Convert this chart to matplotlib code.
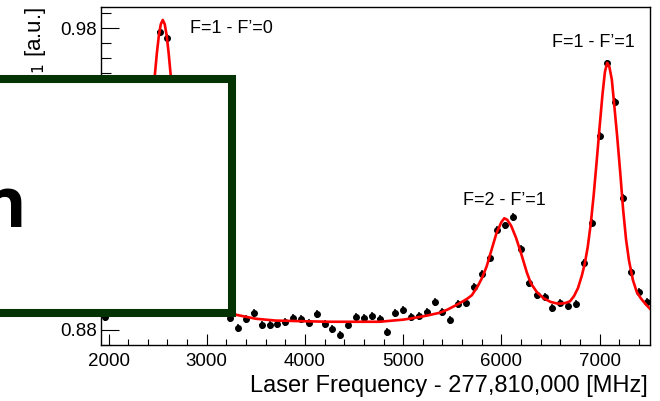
import matplotlib
matplotlib.use("Agg")
import matplotlib.pyplot as plt
from matplotlib.patches import Rectangle
from matplotlib.ticker import MultipleLocator

plt.rcParams['font.family'] = ['Liberation Sans', 'DejaVu Sans']

# ---- data ----
freq = [1960, 2040, 2120, 2200, 2280, 2360, 2440, 2520, 2600, 2680,
        2760, 2840, 2920, 3000, 3080, 3160, 3240, 3320, 3400, 3480,
        3560, 3640, 3720, 3800, 3880, 3960, 4040, 4120, 4200, 4280,
        4360, 4440, 4520, 4600, 4680, 4760, 4840, 4920, 5000, 5080,
        5160, 5240, 5320, 5400, 5480, 5560, 5640, 5720, 5800, 5880,
        5960, 6040, 6120, 6200, 6280, 6360, 6440, 6520, 6600, 6680,
        6760, 6840, 6920, 7000, 7080, 7160, 7240, 7320, 7400, 7480]
signal = [0.8844, 0.8870, 0.8885, 0.8930, 0.9010, 0.9220, 0.9480, 0.9786, 0.9768, 0.9430,
          0.9230, 0.9080, 0.8990, 0.8940, 0.8900, 0.8880, 0.8839, 0.8806, 0.8835, 0.8855,
          0.8817, 0.8817, 0.8819, 0.8827, 0.8839, 0.8835, 0.8822, 0.8852, 0.8819, 0.8802,
          0.8783, 0.8817, 0.8844, 0.8839, 0.8846, 0.8835, 0.8794, 0.8857, 0.8866, 0.8844,
          0.8846, 0.8860, 0.8892, 0.8858, 0.8834, 0.8887, 0.8889, 0.8942, 0.8986, 0.9037,
          0.9131, 0.9146, 0.9173, 0.9067, 0.8955, 0.8916, 0.8909, 0.8874, 0.8890, 0.8879,
          0.8885, 0.9021, 0.9153, 0.9443, 0.9683, 0.9556, 0.9236, 0.8993, 0.8927, 0.8894]
signal_err = 0.0013
freq_err = 25

fit_x = [1930, 2052, 2152, 2202, 2252, 2302, 2352, 2392, 2422, 2452,
         2472, 2492, 2512, 2532, 2552, 2572, 2592, 2612, 2632, 2652,
         2682, 2712, 2752, 2802, 2852, 2902, 2952, 3052, 3152, 3300,
         3500, 3700, 3950, 4250, 4760, 5000, 5100, 5250, 5375, 5450,
         5545, 5610, 5660, 5700, 5760, 5800, 5850, 5900, 5950, 6000,
         6030, 6060, 6100, 6150, 6200, 6260, 6300, 6360, 6430, 6500,
         6560, 6600, 6650, 6700, 6740, 6780, 6820, 6850, 6880, 6910,
         6940, 6970, 7000, 7030, 7055, 7078, 7100, 7125, 7150, 7180,
         7210, 7240, 7270, 7300, 7340, 7380, 7420, 7470, 7520]
fit_y = [0.8885, 0.8925, 0.8975, 0.9020, 0.9070, 0.9145, 0.9250, 0.9360, 0.9460, 0.9572,
         0.9647, 0.9717, 0.9775, 0.9813, 0.9827, 0.9813, 0.9775, 0.9717, 0.9647, 0.9572,
         0.9460, 0.9360, 0.9250, 0.9145, 0.9070, 0.9020, 0.8975, 0.8920, 0.8885, 0.8850,
         0.8837, 0.8831, 0.8829, 0.8827, 0.8827, 0.8834, 0.8839, 0.8848, 0.8857, 0.8867,
         0.8883, 0.8895, 0.8905, 0.8915, 0.8945, 0.8970, 0.9010, 0.9065, 0.9120, 0.9157,
         0.9170, 0.9165, 0.9145, 0.9105, 0.9055, 0.8990, 0.8955, 0.8926, 0.8905, 0.8893,
         0.8888, 0.8887, 0.8889, 0.8895, 0.8912, 0.8938, 0.8980, 0.9020, 0.9075, 0.9150,
         0.9245, 0.9355, 0.9470, 0.9580, 0.9655, 0.9685, 0.9672, 0.9630, 0.9545, 0.9440,
         0.9325, 0.9200, 0.9100, 0.9030, 0.8965, 0.8925, 0.8905, 0.8885, 0.8868]

peak_labels = ["F=1 - F’=0", "F=2 - F’=1", "F=1 - F’=1"]
peak_label_x = [2829, 5609, 6515]
peak_label_y = [0.9800, 0.9230, 0.9754]

x_label = "Laser Frequency - 277,810,000 [MHz]"
y_label = "Fluorescence Intensity, $I_1$ [a.u.]"

# ---- figure ----
W, H = 660, 401
fig = plt.figure(figsize=(W / 100, H / 100), dpi=100)
ax = fig.add_axes([101 / W, 1 - 345 / H, 549 / W, 338 / H])

ax.errorbar(freq, signal, yerr=signal_err, xerr=freq_err, fmt='o', color='black',
            markersize=4, elinewidth=1.1, capsize=0, zorder=3)
ax.plot(fit_x, fit_y, color='#ff0000', linewidth=1.9, zorder=4)

ax.set_xlim(1923, 7514)
ax.set_ylim(0.875, 0.987)
ax.xaxis.set_major_locator(MultipleLocator(1000))
ax.xaxis.set_minor_locator(MultipleLocator(200))
ax.yaxis.set_major_locator(MultipleLocator(0.02))
ax.yaxis.set_minor_locator(MultipleLocator(0.005))
ax.yaxis.set_major_formatter(matplotlib.ticker.FormatStrFormatter('%.2f'))

ax.tick_params(axis='both', which='both', direction='in', width=0.8, labelsize=13.5,
               top=False, right=False)
ax.tick_params(axis='x', which='major', length=8, pad=6)
ax.tick_params(axis='x', which='minor', length=4)
ax.tick_params(axis='y', which='major', length=13, pad=3)
ax.tick_params(axis='y', which='minor', length=7)
for s in ax.spines.values():
    s.set_linewidth(1.0)

for t, x, y in zip(peak_labels, peak_label_x, peak_label_y):
    ax.text(x, y, t, fontsize=13, ha='left', va='center', color='black')

fig.text(648 / W, 1 - 392 / H, x_label, fontsize=17, ha='right', va='baseline')
fig.text(36 / W, 1 - 7 / H, y_label, fontsize=16, rotation=90, ha='center', va='top')

# overlay box
box = Rectangle((-10 / W, 1 - 313 / H), 242 / W, 234 / H, transform=fig.transFigure,
                facecolor='white', edgecolor='#033303', linewidth=5.8, zorder=10)
fig.add_artist(box)
fig.text(-19 / W, 1 - 227 / H, "n", fontsize=50, fontweight='bold', family='Open Sans',
         ha='left', va='baseline', color='black', zorder=11)

fig.savefig("out.png", dpi=100)
